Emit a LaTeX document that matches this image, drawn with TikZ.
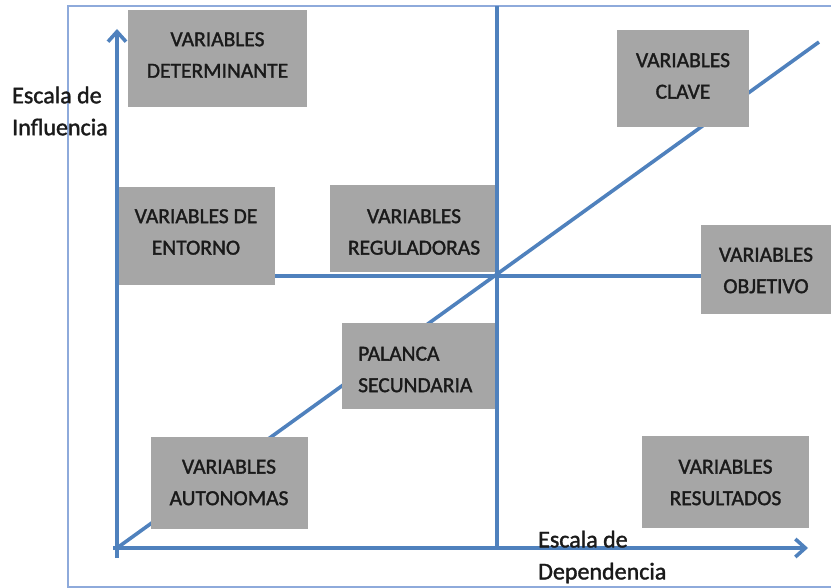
\documentclass[tikz,border=0pt]{standalone}
\usepackage{fontspec}
\setmainfont{Carlito}
\newfontfamily\boxfont{Carlito}[FakeBold=1.5]
\usetikzlibrary{arrows.meta}
\definecolor{lineblue}{HTML}{4F81BD}
\definecolor{frameblue}{HTML}{8EAADB}
\definecolor{boxgray}{HTML}{A6A6A6}
\definecolor{txt}{HTML}{1A1A1A}
\begin{document}
\begin{tikzpicture}[x=1pt,y=-1pt,
  frame/.style={draw=frameblue, line width=1.8pt},
  bline/.style={draw=lineblue, line width=3.6pt},
  axis/.style={draw=lineblue, line width=3.6pt, -{Straight Barb[length=10pt,width=18pt]}},
  vbox/.style={fill=boxgray, draw=none, inner sep=0pt},
  vtext/.style={inner sep=0pt, text=txt, align=center,
    font=\boxfont\fontsize{21.5}{31.5}\selectfont},
  lbl/.style={inner sep=0pt, text=txt, align=left, font=\boxfont\fontsize{24}{32}\selectfont}]
\useasboundingbox (0,0) rectangle (831,588);
% coordinates
\coordinate (FtopR) at (831,6);
\coordinate (FbotR) at (831,587);
\coordinate (Fcorner) at (68,587);
\coordinate (O) at (117,548);
\coordinate (Ybot) at (117,558);
\coordinate (Ytop) at (117,29);
\coordinate (Xl) at (113,548);
\coordinate (Xend) at (808,548);
\coordinate (Mtop) at (497,6);
\coordinate (Mbot) at (497,550);
\coordinate (Hl) at (117,276);
\coordinate (Dend) at (819,42);
% frame
\draw[frame] (FtopR) -| (Fcorner) -- (FbotR);
% right box first (for the midline end)
\node[vbox, minimum width=130, minimum height=89] (obj) at (766,269.5) {};
% diagonal and horizontal midline
\draw[bline] (O) -- (Dend);
\draw[bline] (Hl) -- (Hl -| obj.west);
% boxes
\node[vbox, minimum width=132, minimum height=97] (clave) at (683,78.5) {};
\node[vbox, minimum width=179, minimum height=97] (det) at (217.5,58.5) {};
\node[vbox, minimum width=158, minimum height=98] (ent) at (196,236) {};
\node[vbox, minimum width=168, minimum height=87] (reg) at (414,229) {};
\node[vbox, minimum width=155, minimum height=86] (pal) at (419.5,366) {};
\node[vbox, minimum width=157, minimum height=92] (aut) at (229,483) {};
\node[vbox, minimum width=167, minimum height=92] (res) at (725.5,482) {};
% texts
\node[vtext] (detT) at (217.5,55) {VARIABLES\\DETERMINANTE};
\node[vtext] (claveT) at (683,76) {VARIABLES\\CLAVE};
\node[vtext] (entT) at (196,232) {VARIABLES DE\\ENTORNO};
\node[vtext] (regT) at (414,232) {VARIABLES\\REGULADORAS};
\node[vtext, align=left, anchor=west] (palT) at (358,369.5) {PALANCA\\SECUNDARIA};
\node[vtext] (objT) at (766,270.5) {VARIABLES\\OBJETIVO};
\node[vtext] (autT) at (229,482.5) {VARIABLES\\AUTONOMAS};
\node[vtext] (resT) at (725.5,482.5) {VARIABLES\\RESULTADOS};
% vertical midline
\draw[bline] (Mtop) -- (Mbot);
% axes
\draw[axis] (Ybot) -- (Ytop);
\draw[axis] (Xl) -- (Xend);
% labels
\node[lbl, anchor=west] (ylab) at (12,111) {Escala de\\Influencia};
\node[lbl, anchor=west] (xlab) at (538,557) {Escala de\\Dependencia};
\end{tikzpicture}
\end{document}
